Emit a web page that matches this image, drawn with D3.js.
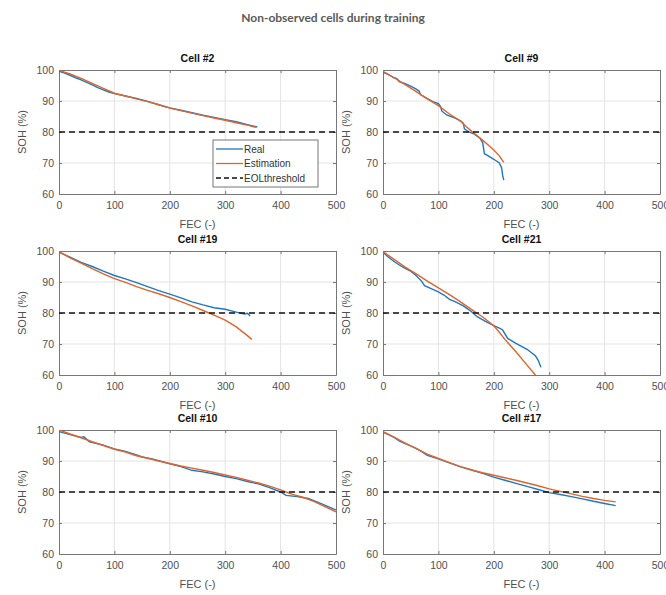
<!DOCTYPE html>
<html>
<head>
<meta charset="utf-8">
<script src="https://cdn.jsdelivr.net/npm/d3@7"></script>
<style>
  body { margin: 0; background: #fff; }
  svg { display: block; font-family: "Liberation Sans", Arial, sans-serif; }
  .grid line { stroke: #e3e3e3; stroke-width: 1; }
  .tick-label { fill: #505050; font-size: 10.5px; font-family: "Liberation Sans", Arial, sans-serif; }
  .ax-label { fill: #505050; font-size: 11px; font-family: "Liberation Sans", Arial, sans-serif; }
  .cell-title { fill: #111; font-size: 10.5px; font-weight: bold; font-family: "Liberation Sans", Arial, sans-serif; }
</style>
</head>
<body>
<div class="visualization"></div>
<script>
// ---- data (FEC, SOH %) ----
const xTicks = [0, 100, 200, 300, 400, 500];
const yTicks = [60, 70, 80, 90, 100];
const eolThreshold = 80;
const cellNames = ["Cell #2", "Cell #9", "Cell #19", "Cell #21", "Cell #10", "Cell #17"];
const legendLabels = ["Real", "Estimation", "EOLthreshold"];

const cell2Real = [[0,99.6],[10,99],[20,98.3],[30,97.5],[40,96.8],[50,96],[60,95.2],[70,94.3],[80,93.6],[90,92.9],[100,92.4],[120,91.6],[140,90.8],[160,89.9],[180,88.8],[200,87.8],[220,87],[240,86.2],[260,85.4],[280,84.7],[300,84],[320,83.3],[340,82.4],[358,81.6]];
const cell2Est = [[0,100],[10,99.3],[20,98.7],[40,97.3],[60,95.7],[80,94.1],[100,92.5],[120,91.6],[140,90.7],[160,89.8],[180,88.8],[200,87.7],[220,86.9],[240,86.1],[260,85.3],[280,84.5],[300,83.8],[320,83],[340,82.2],[355,81.5]];

const cell9Real = [[0,99.3],[10,98.5],[20,97.5],[25,97.2],[30,96.2],[40,95.6],[50,94.8],[60,93.8],[65,93.2],[68,92],[80,90.8],[90,89.8],[100,89.2],[104,88.2],[106,86.8],[115,85.5],[130,84.5],[140,83.6],[145,82.8],[147,81],[155,80],[165,79.3],[175,78],[180,76.5],[183,73],[190,72.3],[200,71.2],[210,70],[214,68.5],[216,66],[218,64.5]];
const cell9Est = [[0,99.6],[20,97.5],[40,95.3],[60,93],[80,90.7],[100,88.5],[120,85.8],[140,83.5],[150,81.8],[160,80.2],[170,78.8],[180,77.3],[190,75.8],[200,74.2],[210,72.3],[218,70.2]];

const cell19Real = [[0,99.6],[20,98],[40,96.3],[60,95],[80,93.5],[100,92.1],[120,91],[140,89.8],[160,88.5],[180,87.2],[200,86.1],[220,84.9],[240,83.6],[260,82.6],[280,81.7],[300,81.2],[320,80.3],[335,79.7],[340,79.9],[345,79]];
const cell19Est = [[0,99.8],[20,97.8],[40,96.1],[60,94.3],[80,92.6],[100,91.1],[120,89.9],[140,88.5],[160,87.3],[180,86.2],[200,85],[220,83.7],[240,82.3],[260,80.8],[280,79.3],[300,77.7],[320,75.5],[340,72.7],[348,71.5]];

const cell21Real = [[0,99.6],[10,98],[20,96.6],[30,95.4],[40,94.4],[50,93.5],[60,92],[70,90.2],[75,88.8],[85,88],[100,86.8],[110,85.8],[120,84.4],[130,83.7],[145,82.3],[160,80.4],[170,78.8],[185,77.3],[200,75.9],[212,75],[216,74.5],[225,71.8],[240,70.2],[260,68.3],[275,66.2],[280,64.8],[285,62.5]];
const cell21Est = [[0,99.8],[20,97.3],[40,94.8],[60,92.6],[80,90.3],[100,88.1],[120,85.9],[140,83.6],[160,81.1],[180,78.7],[200,75.9],[210,73.8],[220,71.5],[240,67.5],[260,63.2],[275,60],[280,58.8]];

const cell10Real = [[0,99.5],[20,98.5],[40,97.6],[45,97.8],[55,96.2],[80,95.1],[100,93.9],[120,93.1],[140,92],[150,91.3],[170,90.6],[200,89.1],[220,88.2],[240,87],[260,86.5],[280,85.8],[300,85],[320,84.3],[340,83.4],[360,82.6],[380,81.4],[400,80],[410,78.9],[430,78.5],[450,77.9],[470,76.5],[500,74.2]];
const cell10Est = [[0,100],[20,98.7],[40,97.5],[60,96.2],[80,95],[100,93.8],[120,92.9],[140,91.7],[160,90.9],[180,90],[200,89.2],[220,88.4],[240,87.7],[260,87],[280,86.3],[300,85.5],[320,84.7],[340,83.8],[360,82.9],[380,81.9],[400,80.7],[420,79.3],[440,78.3],[460,77],[480,75.3],[500,73.6]];

const cell17Real = [[0,99.3],[10,98.5],[20,97.6],[30,96.4],[40,95.6],[50,94.9],[60,94.1],[70,93],[80,91.8],[100,90.7],[120,89.4],[140,88.1],[160,87.1],[180,86],[200,84.8],[220,83.8],[240,82.8],[260,81.8],[280,80.8],[300,79.8],[320,79.2],[340,78.5],[360,77.8],[380,77],[400,76.3],[420,75.6]];
const cell17Est = [[0,99.5],[20,97.7],[40,95.8],[60,94],[80,92.2],[100,90.8],[120,89.5],[140,88.2],[160,87.1],[180,86.2],[200,85.4],[220,84.6],[240,83.8],[260,82.9],[280,82],[300,81],[320,80.2],[340,79.4],[360,78.6],[380,77.9],[400,77.3],[420,76.8]];

const realSeries = [cell2Real, cell9Real, cell19Real, cell21Real, cell10Real, cell17Real];
const estSeries = [cell2Est, cell9Est, cell19Est, cell21Est, cell10Est, cell17Est];

// ---- layout ----
const width = 666;
const height = 595;
const colLeft = [59, 383];
const plotWidth = 277;
const rowTop = [70, 251, 430];
const plotHeight = 124;
const blue = "#1f77c4";
const orange = "#e0642a";

const svg = d3
  .select(".visualization")
  .append("svg")
  .attr("width", width)
  .attr("height", height)
  .attr("viewBox", `0 0 ${width} ${height}`);

// figure title
svg
  .append("text")
  .attr("x", 333)
  .attr("y", 22)
  .attr("text-anchor", "middle")
  .style("font-family", "Lato, 'Open Sans', sans-serif")
  .style("font-weight", "bold")
  .style("font-size", "12px")
  .style("fill", "#5a5a5a")
  .text("Non-observed cells during training");

function drawCell(i) {
  const x0 = colLeft[i % 2];
  const y0 = rowTop[Math.floor(i / 2)];

  const xScale = d3.scaleLinear().domain([0, 500]).range([0, plotWidth]);
  const yScale = d3.scaleLinear().domain([60, 100]).range([plotHeight, 0]);

  const g = svg.append("g").attr("transform", `translate(${x0}, ${y0})`);

  g.append("rect")
    .attr("width", plotWidth)
    .attr("height", plotHeight)
    .attr("fill", "#fff");

  // grid
  const grid = g.append("g").attr("class", "grid");
  grid.selectAll(".gx")
    .data(xTicks.slice(1, -1))
    .enter()
    .append("line")
    .attr("x1", (d) => xScale(d))
    .attr("x2", (d) => xScale(d))
    .attr("y1", 0)
    .attr("y2", plotHeight);
  grid.selectAll(".gy")
    .data(yTicks.slice(1, -1))
    .enter()
    .append("line")
    .attr("x1", 0)
    .attr("x2", plotWidth)
    .attr("y1", (d) => yScale(d))
    .attr("y2", (d) => yScale(d));

  // axes: ticks inside, all four sides (matlab box)
  const tickStyle = (sel) => {
    sel.select(".domain").attr("stroke", "#777");
    sel.selectAll(".tick line").attr("stroke", "#777");
    sel.selectAll(".tick text").attr("class", "tick-label");
  };

  g.append("g")
    .attr("transform", `translate(0, ${plotHeight})`)
    .call(d3.axisBottom(xScale).tickValues(xTicks).tickSize(-3).tickPadding(8).tickSizeOuter(0))
    .call(tickStyle);
  g.append("g")
    .call(d3.axisLeft(yScale).tickValues(yTicks).tickSize(-3).tickPadding(5).tickSizeOuter(0))
    .call(tickStyle);
  g.append("g")
    .call(d3.axisTop(xScale).tickValues(xTicks).tickSize(-3).tickFormat("").tickSizeOuter(0))
    .call(tickStyle);
  g.append("g")
    .attr("transform", `translate(${plotWidth}, 0)`)
    .call(d3.axisRight(yScale).tickValues(yTicks).tickSize(-3).tickFormat("").tickSizeOuter(0))
    .call(tickStyle);

  // clip so lines stay inside the box
  const clipId = `clip-${i}`;
  g.append("clipPath")
    .attr("id", clipId)
    .append("rect")
    .attr("width", plotWidth)
    .attr("height", plotHeight);

  const line = d3.line()
    .x((d) => xScale(d[0]))
    .y((d) => yScale(d[1]));

  const lines = g.append("g").attr("clip-path", `url(#${clipId})`);

  lines.append("path")
    .datum(realSeries[i])
    .attr("fill", "none")
    .attr("stroke", blue)
    .attr("stroke-width", 1.4)
    .attr("d", line);

  lines.append("path")
    .datum(estSeries[i])
    .attr("fill", "none")
    .attr("stroke", orange)
    .attr("stroke-width", 1.4)
    .attr("d", line);

  lines.append("line")
    .attr("x1", 0)
    .attr("x2", plotWidth)
    .attr("y1", yScale(eolThreshold))
    .attr("y2", yScale(eolThreshold))
    .attr("stroke", "#111")
    .attr("stroke-width", 1.4)
    .attr("stroke-dasharray", "6,4");

  // title and labels
  g.append("text")
    .attr("class", "cell-title")
    .attr("x", plotWidth / 2)
    .attr("y", -8)
    .attr("text-anchor", "middle")
    .text(cellNames[i]);

  g.append("text")
    .attr("class", "ax-label")
    .attr("x", plotWidth / 2)
    .attr("y", plotHeight + 34)
    .attr("text-anchor", "middle")
    .text("FEC (-)");

  g.append("text")
    .attr("class", "ax-label")
    .attr("transform", `translate(-33, ${plotHeight / 2}) rotate(-90)`)
    .attr("text-anchor", "middle")
    .text("SOH (%)");

  return g;
}

const cells = d3.range(6).map(drawCell);

// legend in first subplot
const legend = cells[0].append("g").attr("transform", "translate(154, 70)");
legend.append("rect")
  .attr("width", 105)
  .attr("height", 47)
  .attr("fill", "#fff")
  .attr("stroke", "#777")
  .attr("stroke-width", 1);

const legendColors = [blue, orange, "#111"];
const legendItems = legend.selectAll(".legend-item")
  .data(legendLabels)
  .enter()
  .append("g")
  .attr("transform", (d, i) => `translate(3, ${9 + i * 14.5})`);

legendItems.append("line")
  .attr("x1", 0)
  .attr("x2", 27)
  .attr("stroke", (d, i) => legendColors[i])
  .attr("stroke-width", 1.3)
  .attr("stroke-dasharray", (d, i) => (i === 2 ? "5,3" : null));

legendItems.append("text")
  .attr("x", 28)
  .attr("dy", "0.35em")
  .style("font-size", "10px")
  .style("fill", "#333")
  .text((d) => d);
</script>
</body>
</html>
